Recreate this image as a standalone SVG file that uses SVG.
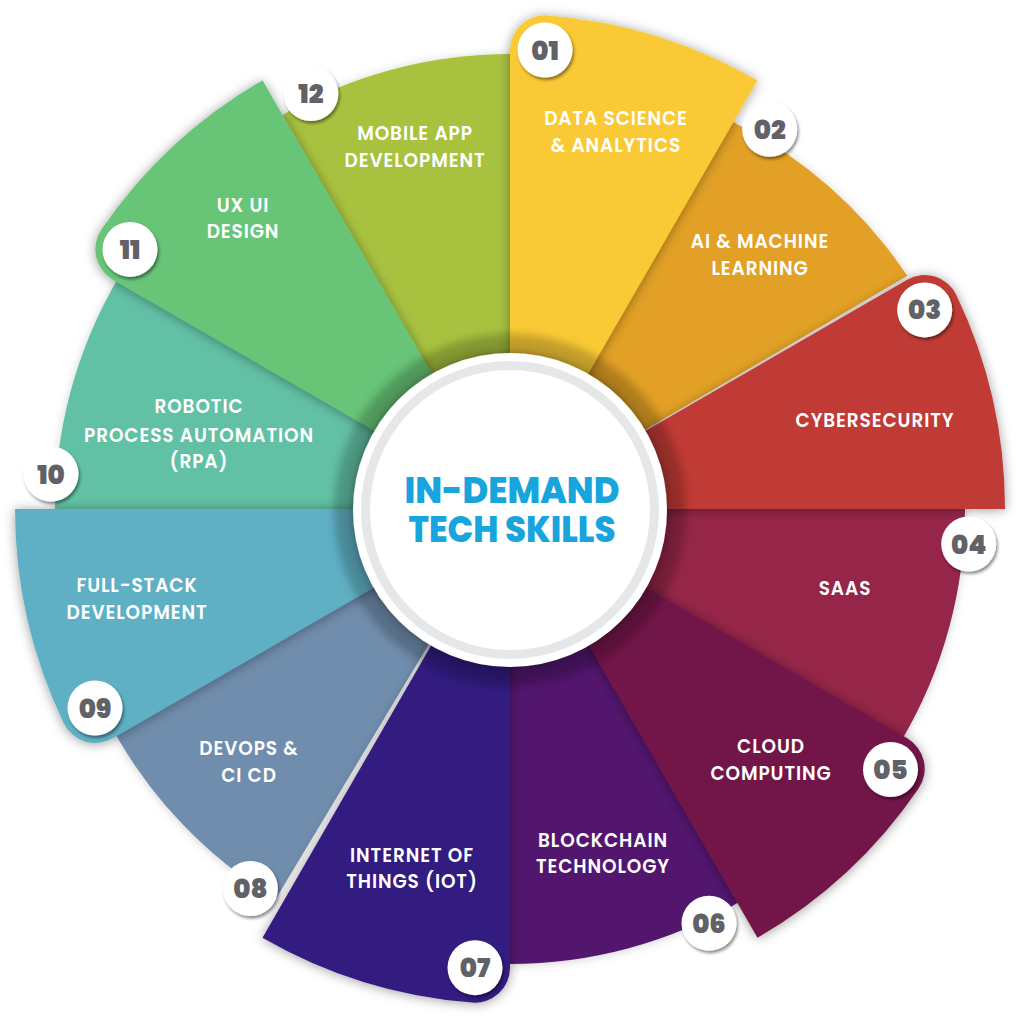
<svg xmlns="http://www.w3.org/2000/svg" width="1020" height="1018" viewBox="0 0 1020 1018">
<style>
.lbl{font-family:Poppins,Inter,"Open Sans","Liberation Sans",sans-serif;font-weight:600;font-size:18.5px;letter-spacing:0.9px;fill:#ffffff;text-anchor:middle}
.num{font-family:Poppins,Inter,"Open Sans","Liberation Sans",sans-serif;font-weight:900;font-size:26px;fill:#616267;text-anchor:middle}
.badge{fill:#ffffff;filter:url(#bsh)}
.odd{filter:url(#osh)}
.even{filter:url(#esh)}
.title{font-family:Poppins,Inter,"Open Sans","Liberation Sans",sans-serif;font-weight:800;font-size:36px;fill:#18a4dc;text-anchor:middle}
</style>
<defs>
<filter id="osh" x="-30%" y="-30%" width="160%" height="160%">
<feDropShadow dx="0" dy="1" stdDeviation="6" flood-color="#000" flood-opacity="0.38"/>
</filter>
<filter id="esh" x="-30%" y="-30%" width="160%" height="160%">
<feDropShadow dx="0" dy="1" stdDeviation="5" flood-color="#000" flood-opacity="0.18"/>
</filter>
<filter id="bsh" x="-40%" y="-40%" width="180%" height="180%">
<feDropShadow dx="1.5" dy="2.5" stdDeviation="1.5" flood-color="#000" flood-opacity="0.45"/>
</filter>
<filter id="blur6" x="-20%" y="-20%" width="140%" height="140%">
<feGaussianBlur stdDeviation="4"/>
</filter>
<filter id="csh" x="-20%" y="-20%" width="140%" height="140%">
<feDropShadow dx="0" dy="0" stdDeviation="5" flood-color="#000" flood-opacity="0.35"/>
</filter>
</defs>
<rect width="1020" height="1018" fill="#ffffff"/>

<!-- even segments first -->
<g id="node-02">
<path class="even" fill="#e2a125" d="M510,509 L728.9,119.9 A455,455 0 0 1 907.3,275.7 Z"/>
<text class="lbl" x="760" y="248">AI &amp; MACHINE</text>
<text class="lbl" x="760" y="275">LEARNING</text>
</g>
<g id="node-04">
<path class="even" fill="#96254a" d="M510,509 L964.9,501.1 A455,455 0 0 1 900.1,742.7 Z"/>
<text class="lbl" x="845" y="595">SAAS</text>
</g>
<g id="node-06">
<path class="even" fill="#52186e" d="M510,509 L744.3,899.0 A455,455 0 0 1 502.1,963.9 Z"/>
<text class="lbl" x="603" y="847">BLOCKCHAIN</text>
<text class="lbl" x="603" y="873">TECHNOLOGY</text>
</g>
<g id="node-08">
<path class="even" fill="#6f8dad" d="M510,509 L275.7,899.0 A455,455 0 0 1 112.7,729.3 Z"/>
<text class="lbl" x="249" y="755">DEVOPS &amp;</text>
<text class="lbl" x="249" y="782">CI CD</text>
</g>
<g id="node-10">
<path class="even" fill="#62c1a5" d="M510,509 L55.1,516.9 A455,455 0 0 1 119.9,275.3 Z"/>
<text class="lbl" x="199" y="413">ROBOTIC</text>
<text class="lbl" x="199" y="442">PROCESS AUTOMATION</text>
<text class="lbl" x="199" y="468">(RPA)</text>
</g>
<g id="node-12">
<path class="even" fill="#a8c23f" d="M510,509 L275.7,119.0 A455,455 0 0 1 517.9,54.1 Z"/>
<text class="lbl" x="415" y="140">MOBILE APP</text>
<text class="lbl" x="415" y="167">DEVELOPMENT</text>
</g>

<!-- odd segments on top -->
<g id="node-01">
<path class="odd" fill="#f9ca34" d="M510,509 L510,50.33 A35,35 0 0 1 547.66,15.44 A495,495 0 0 1 757.5,80.31 Z"/>
<text class="lbl" x="616" y="125">DATA SCIENCE</text>
<text class="lbl" x="616" y="152">&amp; ANALYTICS</text>
</g>
<g id="node-03">
<path class="odd" fill="#c03b35" d="M510,509 L907.22,279.66 A35,35 0 0 1 956.27,294.84 A495,495 0 0 1 1005,509 Z"/>
<text class="lbl" x="875" y="427">CYBERSECURITY</text>
</g>
<g id="node-05">
<path class="odd" fill="#72164a" d="M510,509 L907.22,738.34 A35,35 0 0 1 918.6,788.41 A495,495 0 0 1 757.5,937.69 Z"/>
<text class="lbl" x="771" y="753">CLOUD</text>
<text class="lbl" x="771" y="780">COMPUTING</text>
</g>
<g id="node-07">
<path class="odd" fill="#331a80" d="M510,509 L510,967.67 A35,35 0 0 1 472.34,1002.56 A495,495 0 0 1 262.5,937.69 Z"/>
<text class="lbl" x="412" y="862">INTERNET OF</text>
<text class="lbl" x="412" y="888">THINGS (IOT)</text>
</g>
<g id="node-09">
<path class="odd" fill="#5fb0c4" d="M510,509 L112.78,738.34 A35,35 0 0 1 63.73,723.16 A495,495 0 0 1 15,509 Z"/>
<text class="lbl" x="137" y="592">FULL-STACK</text>
<text class="lbl" x="137" y="619">DEVELOPMENT</text>
</g>
<g id="node-11">
<path class="odd" fill="#68c477" d="M510,509 L112.78,279.66 A35,35 0 0 1 101.4,229.59 A495,495 0 0 1 262.5,80.31 Z"/>
<text class="lbl" x="243" y="212">UX UI</text>
<text class="lbl" x="243" y="238">DESIGN</text>
</g>

<!-- number badges -->
<g id="badges">
<g id="badge-01"><circle class="badge" cx="545" cy="50" r="27.5"/><text class="num" x="545" y="59.5">01</text></g>
<g id="badge-02"><circle class="badge" cx="769.7" cy="129.3" r="27.5"/><text class="num" x="769.7" y="138.8">02</text></g>
<g id="badge-03"><circle class="badge" cx="924.7" cy="309.9" r="27.5"/><text class="num" x="924.7" y="319.4">03</text></g>
<g id="badge-04"><circle class="badge" cx="968.7" cy="544" r="27.5"/><text class="num" x="968.7" y="553.5">04</text></g>
<g id="badge-05"><circle class="badge" cx="890.5" cy="769.5" r="27.5"/><text class="num" x="890.5" y="779">05</text></g>
<g id="badge-06"><circle class="badge" cx="709" cy="923.2" r="27.5"/><text class="num" x="709" y="932.7">06</text></g>
<g id="badge-07"><circle class="badge" cx="475" cy="967.7" r="27.5"/><text class="num" x="475" y="977.2">07</text></g>
<g id="badge-08"><circle class="badge" cx="250.4" cy="888.5" r="27.5"/><text class="num" x="250.4" y="898">08</text></g>
<g id="badge-09"><circle class="badge" cx="95" cy="708" r="27.5"/><text class="num" x="95" y="717.5">09</text></g>
<g id="badge-10"><circle class="badge" cx="51" cy="474" r="27.5"/><text class="num" x="51" y="483.5">10</text></g>
<g id="badge-11"><circle class="badge" cx="130" cy="249.4" r="27.5"/><text class="num" x="130" y="258.9">11</text></g>
<g id="badge-12"><circle class="badge" cx="310.9" cy="93.5" r="27.5"/><text class="num" x="310.9" y="103">12</text></g>
</g>

<!-- center hub -->
<g id="center">
<circle cx="510" cy="510" r="176" fill="#000" opacity="0.22" filter="url(#blur6)"/>
<circle cx="510" cy="510" r="157" fill="#ffffff" filter="url(#csh)"/>
<circle cx="510" cy="510" r="144.5" fill="none" stroke="#e6e7e9" stroke-width="9"/>
<text class="title" x="512" y="503" textLength="215" lengthAdjust="spacingAndGlyphs">IN-DEMAND</text>
<text class="title" x="512" y="542" textLength="207" lengthAdjust="spacingAndGlyphs">TECH SKILLS</text>
</g>
</svg>
